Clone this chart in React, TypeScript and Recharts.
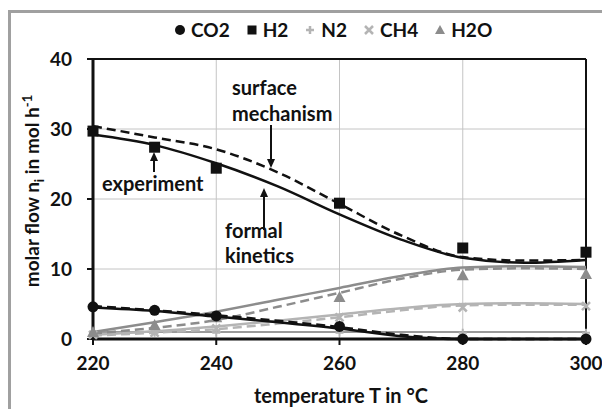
import { ComposedChart, Line, Scatter, XAxis, YAxis, CartesianGrid, ReferenceLine } from 'recharts'

// model curves (formal kinetics = solid, surface mechanism = dashed)
const temps = [220, 230, 240, 250, 260, 270, 280, 290, 300]
const h2Kin = [29.2, 27.7, 25.1, 21.8, 17.8, 14.2, 11.6, 10.9, 11.3]
const h2Surf = [30.4, 28.8, 27.1, 23.8, 19.3, 14.8, 11.7, 11.2, 11.3]
const co2Kin = [4.5, 4.0, 3.2, 2.4, 1.5, 0.4, 0, 0, 0]
const co2Surf = [4.7, 4.1, 3.4, 2.6, 1.7, 0.6, 0, 0, 0]
const h2oKin = [1.0, 2.4, 3.9, 5.6, 7.3, 9.0, 10.2, 10.4, 10.3]
const h2oSurf = [0.8, 1.6, 2.7, 4.6, 6.6, 8.6, 9.9, 10.1, 10.0]
const ch4Kin = [0.6, 1.1, 1.8, 2.6, 3.5, 4.4, 5.0, 5.1, 5.0]
const ch4Surf = [0.5, 0.9, 1.4, 2.2, 3.1, 4.1, 4.8, 4.9, 4.9]
const n2Kin = [1.0, 1.0, 1.0, 1.0, 1.0, 1.0, 1.0, 1.0, 1.0]

// experiment
const expTemps = [220, 230, 240, 260, 280, 300]
const co2Exp = [4.6, 4.1, 3.3, 1.8, 0, 0]
const h2Exp = [29.7, 27.4, 24.4, 19.4, 13.0, 12.4]
const n2Exp = [0.9, 0.9, 0.9, 0.9, 0.9, 0.9]
const ch4Exp = [0.6, 0.9, 1.5, 3.1, 4.5, 4.7]
const h2oExp = [1.0, 2.0, 3.1, 6.0, 9.1, 9.3]

const xTicks = [220, 240, 260, 280, 300]
const yTicks = [0, 10, 20, 30, 40]

const modelRows = temps.map((t, i) => ({
  t,
  h2Kin: h2Kin[i],
  h2Surf: h2Surf[i],
  co2Kin: co2Kin[i],
  co2Surf: co2Surf[i],
  h2oKin: h2oKin[i],
  h2oSurf: h2oSurf[i],
  ch4Kin: ch4Kin[i],
  ch4Surf: ch4Surf[i],
  n2Kin: n2Kin[i],
}))

const toPts = (vals: number[]) => expTemps.map((t, i) => ({ t, v: vals[i] }))

const FONT = 'Lato, "Open Sans", sans-serif'
const DARK = '#111'
const MID = '#8c8c8c'
const LIGHT = '#b4b4b4'
const N2C = '#9a9a9a'

const Circle = (p: any) => <circle cx={p.cx} cy={p.cy} r={5.5} fill={DARK} />
const Square = (p: any) => <rect x={p.cx - 5.5} y={p.cy - 5.5} width={11} height={11} fill={DARK} />
const Plus = (p: any) => (
  <path d={`M${p.cx - 4},${p.cy}H${p.cx + 4}M${p.cx},${p.cy - 4}V${p.cy + 4}`} stroke={LIGHT} strokeWidth={2} />
)
const Cross = (p: any) => (
  <path d={`M${p.cx - 4},${p.cy - 4}L${p.cx + 4},${p.cy + 4}M${p.cx + 4},${p.cy - 4}L${p.cx - 4},${p.cy + 4}`} stroke={LIGHT} strokeWidth={2.5} />
)
const Tri = (p: any) => (
  <path d={`M${p.cx},${p.cy - 6}L${p.cx + 6},${p.cy + 5}L${p.cx - 6},${p.cy + 5}Z`} fill={MID} />
)

const legendItems = [
  { name: 'CO2', icon: <circle cx={5} cy={8} r={5} fill={DARK} /> },
  { name: 'H2', icon: <rect x={0.5} y={3.5} width={9} height={9} fill={DARK} /> },
  { name: 'N2', icon: <path d="M1,8H9M5,4V12" stroke={LIGHT} strokeWidth={2.5} /> },
  { name: 'CH4', icon: <path d="M1,4L9,12M9,4L1,12" stroke={LIGHT} strokeWidth={2.5} /> },
  { name: 'H2O', icon: <path d="M5,3L10,12H0Z" fill={MID} /> },
]

const arrow = (x: number, y1: number, y2: number) => {
  const dir = y2 > y1 ? 1 : -1
  return (
    <g>
      <line x1={x} y1={y1} x2={x} y2={y2 - dir * 6} stroke={DARK} strokeWidth={2} />
      <path d={`M${x - 4},${y2 - dir * 9}L${x + 4},${y2 - dir * 9}L${x},${y2}Z`} fill={DARK} />
    </g>
  )
}

export default function App() {
  const kin = { strokeWidth: 2.5, dot: false, isAnimationActive: false, type: 'monotone' as const }
  const surf = { ...kin, strokeDasharray: '9 5' }
  return (
    <div style={{ position: 'absolute', left: 0, top: 0, width: 602, height: 409, background: '#fff', fontFamily: FONT }}>
      <div style={{ position: 'absolute', left: 8, top: 10, width: 600, height: 405, borderLeft: '3px solid #a0a0a0', borderTop: '3px solid #a0a0a0' }} />
      <div style={{ position: 'absolute', left: 175, top: 19, display: 'flex', gap: 17, fontWeight: 700, fontSize: 19, lineHeight: '22px', color: DARK }}>
        {legendItems.map((it) => (
          <span key={it.name} style={{ display: 'flex', alignItems: 'center', gap: 6 }}>
            <svg width={10} height={16}>{it.icon}</svg>
            {it.name}
          </span>
        ))}
      </div>
      <ComposedChart width={602} height={409} margin={{ top: 59, right: 16, bottom: 30, left: 33 }} style={{ position: 'absolute', left: 0, top: 0 }}>
        <CartesianGrid stroke="#c4c4c4" strokeWidth={1} />
        <XAxis
          dataKey="t"
          type="number"
          domain={[220, 300]}
          ticks={xTicks}
          height={40}
          axisLine={{ stroke: DARK, strokeWidth: 3 }}
          tickLine={{ stroke: DARK, strokeWidth: 2 }}
          tickSize={6}
          tickMargin={12}
          tick={{ fontSize: 19, fontWeight: 700, fill: DARK, fontFamily: FONT }}
          allowDuplicatedCategory={false}
        />
        <YAxis
          type="number"
          domain={[0, 40]}
          ticks={yTicks}
          width={60}
          axisLine={{ stroke: DARK, strokeWidth: 3 }}
          tickLine={{ stroke: DARK, strokeWidth: 2 }}
          tickSize={6}
          tickMargin={15}
          tick={{ fontSize: 19, fontWeight: 700, fill: DARK, fontFamily: FONT }}
        />
        <ReferenceLine y={40} stroke={DARK} strokeWidth={2} />
        <ReferenceLine x={300} stroke={DARK} strokeWidth={2} />

        <Line data={modelRows} dataKey="n2Kin" {...kin} stroke={N2C} strokeWidth={2} />
        <Line data={modelRows} dataKey="ch4Kin" {...kin} stroke={LIGHT} />
        <Line data={modelRows} dataKey="ch4Surf" {...surf} stroke={LIGHT} />
        <Line data={modelRows} dataKey="h2oKin" {...kin} stroke={MID} />
        <Line data={modelRows} dataKey="h2oSurf" {...surf} stroke={MID} />
        <Line data={modelRows} dataKey="co2Kin" {...kin} stroke={DARK} />
        <Line data={modelRows} dataKey="co2Surf" {...surf} stroke={DARK} />
        <Line data={modelRows} dataKey="h2Kin" {...kin} stroke={DARK} />
        <Line data={modelRows} dataKey="h2Surf" {...surf} stroke={DARK} />

        <Scatter data={toPts(n2Exp)} dataKey="v" shape={Plus} isAnimationActive={false} />
        <Scatter data={toPts(ch4Exp)} dataKey="v" shape={Cross} isAnimationActive={false} />
        <Scatter data={toPts(h2oExp)} dataKey="v" shape={Tri} isAnimationActive={false} />
        <Scatter data={toPts(co2Exp)} dataKey="v" shape={Circle} isAnimationActive={false} />
        <Scatter data={toPts(h2Exp)} dataKey="v" shape={Square} isAnimationActive={false} />
      </ComposedChart>
      <svg width={602} height={409} style={{ position: 'absolute', left: 0, top: 0, pointerEvents: 'none' }}>
        <g fontFamily={FONT} fontWeight={700} fontSize={20} fill={DARK}>
          <text x={232} y={95}>surface</text>
          <text x={232} y={121}>mechanism</text>
          <text x={102} y={191}>experiment</text>
          <text x={225} y={238}>formal</text>
          <text x={225} y={263}>kinetics</text>
          <text x={341} y={403} textAnchor="middle">temperature T in °C</text>
          <text transform="translate(39,191) rotate(-90)" fontSize={19} textAnchor="middle">
            molar flow n<tspan fontSize={13} dy={5}>i</tspan>
            <tspan dy={-5}> in mol h</tspan>
            <tspan fontSize={13} dy={-7}>-1</tspan>
          </text>
        </g>
        {arrow(271, 125, 168)}
        {arrow(154, 172, 152)}
        {arrow(264, 230, 188)}
      </svg>
    </div>
  )
}
